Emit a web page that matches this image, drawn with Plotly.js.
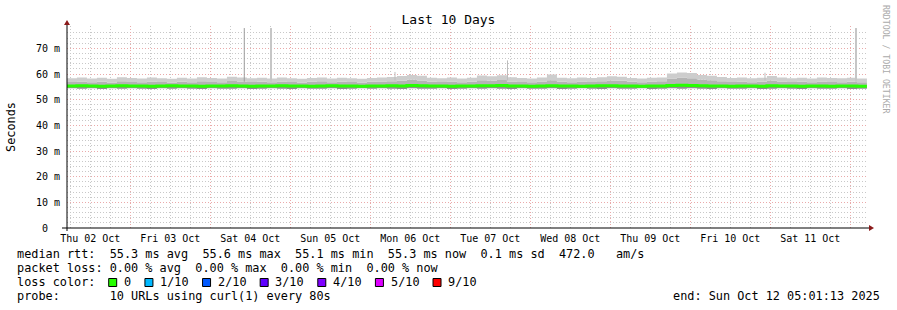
<!DOCTYPE html>
<html>
<head>
<meta charset="utf-8">
<script src="https://cdn.plot.ly/plotly-3.0.1.min.js"></script>
<style>html,body{margin:0;padding:0;background:#fff;}#chart{width:897px;height:310px;}</style>
</head>
<body>
<div id="chart"></div>
<script>
// ---------- DATA ----------
// sample times (3-hour RRD consolidation steps), "MM-DD HH"
const times = [
 '10-02 05','10-02 08','10-02 11','10-02 14','10-02 17','10-02 20','10-02 23',
 '10-03 02','10-03 05','10-03 08','10-03 11','10-03 14','10-03 17','10-03 20','10-03 23',
 '10-04 02','10-04 05','10-04 08','10-04 11','10-04 14','10-04 17','10-04 20','10-04 23',
 '10-05 02','10-05 05','10-05 08','10-05 11','10-05 14','10-05 17','10-05 20','10-05 23',
 '10-06 02','10-06 05','10-06 08','10-06 11','10-06 14','10-06 17','10-06 20','10-06 23',
 '10-07 02','10-07 05','10-07 08','10-07 11','10-07 14','10-07 17','10-07 20','10-07 23',
 '10-08 02','10-08 05','10-08 08','10-08 11','10-08 14','10-08 17','10-08 20','10-08 23',
 '10-09 02','10-09 05','10-09 08','10-09 11','10-09 14','10-09 17','10-09 20','10-09 23',
 '10-10 02','10-10 05','10-10 08','10-10 11','10-10 14','10-10 17','10-10 20','10-10 23',
 '10-11 02','10-11 05','10-11 08','10-11 11','10-11 14','10-11 17','10-11 20','10-11 23',
 '10-12 02','10-12 05'
];
// smoke: lowest ping (ms)
const smokeLo = [
 54.4,54.3,54.4,54.2,54.4,54.3,54.4,54.3,54.2,54.4,
 54.3,54.4,54.3,54.2,54.4,54.3,54.3,54.4,54.2,54.3,
 54.4,54.3,54.2,54.4,54.3,54.3,54.4,54.2,54.3,54.4,
 54.3,54.4,54.3,54.2,54.4,54.3,54.3,54.4,54.2,54.3,
 54.4,54.3,54.4,54.3,54.2,54.4,54.3,54.3,54.4,54.2,
 54.3,54.4,54.3,54.2,54.4,54.3,54.3,54.4,54.2,54.3,
 54.4,54.3,54.4,54.3,54.2,54.4,54.3,54.3,54.4,54.2,
 54.3,54.4,54.3,54.2,54.4,54.3,54.3,54.4,54.2,54.3,54.3
];
// median rtt (ms)
const median = [
 55.3,55.4,55.3,55.2,55.3,55.4,55.3,55.3,55.2,55.3,
 55.4,55.3,55.3,55.2,55.3,55.3,55.4,55.3,55.2,55.3,
 55.3,55.4,55.3,55.3,55.2,55.3,55.4,55.3,55.3,55.2,
 55.3,55.3,55.4,55.3,55.5,55.4,55.3,55.3,55.2,55.3,
 55.3,55.4,55.4,55.5,55.3,55.3,55.2,55.3,55.4,55.3,
 55.3,55.2,55.3,55.4,55.4,55.3,55.3,55.2,55.3,55.3,
 55.5,55.6,55.5,55.4,55.3,55.3,55.2,55.3,55.3,55.2,
 55.4,55.3,55.3,55.2,55.3,55.3,55.2,55.3,55.3,55.2,55.2
];
// smoke: upper inner ping (ms)
const smokeHi = [
 56.9,57.1,56.8,57.0,56.7,57.2,56.9,56.8,57.1,56.9,
 56.7,57.0,56.8,57.2,56.9,56.8,57.3,57.1,56.9,57.0,
 56.8,57.1,56.9,56.7,57.0,57.2,56.8,57.0,56.9,56.7,
 57.0,57.1,57.2,57.4,57.8,57.5,57.0,56.9,57.1,56.8,
 57.0,57.6,57.4,57.7,57.1,56.9,56.8,57.1,57.6,57.0,
 56.8,57.1,56.9,57.2,57.5,57.4,57.0,56.8,57.1,57.2,
 58.2,58.6,58.3,57.8,57.6,57.2,56.9,57.1,56.8,57.0,
 57.5,57.1,56.9,57.0,56.8,57.1,56.9,56.8,57.0,56.8,56.8
];
// smoke: highest ping (ms)
const smokeMax = [
 58.3,58.6,58.2,58.5,58.1,58.7,58.4,58.2,58.6,58.3,
 58.1,58.5,58.2,58.7,58.4,58.2,58.9,58.6,58.3,58.5,
 58.2,58.6,58.3,58.1,58.4,58.6,58.2,58.5,58.3,58.1,
 58.4,58.6,58.8,59.2,59.6,59.3,58.5,58.3,58.6,58.2,
 58.5,59.4,59.1,59.5,58.7,58.4,58.2,58.6,59.8,58.5,
 58.3,58.6,58.4,58.7,59.1,58.9,58.4,58.2,58.5,58.6,
 60.2,60.6,60.4,59.6,59.3,58.8,58.4,58.6,58.3,58.5,
 59.2,58.6,58.3,58.5,58.2,58.6,58.4,58.3,58.5,58.2,58.2
];
// isolated outlier pings
const spikeTimes = ['2025-10-04 10:12','2025-10-04 18:13','2025-10-06 07:25','2025-10-07 17:10','2025-10-10 22:25','2025-10-12 01:43'];
const spikeBase  = [57.0, 57.0, 57.5, 57.5, 57.5, 57.0];
const spikeTops  = [77.9, 77.9, 60.8, 65.3, 60.5, 77.9];

const dayLabels = ['Thu 02 Oct','Fri 03 Oct','Sat 04 Oct','Sun 05 Oct','Mon 06 Oct','Tue 07 Oct','Wed 08 Oct','Thu 09 Oct','Fri 10 Oct','Sat 11 Oct'];
const dayNoons  = ['2025-10-02 12:00','2025-10-03 12:00','2025-10-04 12:00','2025-10-05 12:00','2025-10-06 12:00','2025-10-07 12:00','2025-10-08 12:00','2025-10-09 12:00','2025-10-10 12:00','2025-10-11 12:00'];
const dayStarts = ['2025-10-03','2025-10-04','2025-10-05','2025-10-06','2025-10-07','2025-10-08','2025-10-09','2025-10-10','2025-10-11','2025-10-12'];
const yTickVals = [0,10,20,30,40,50,60,70];
const yTickText = ['0\u00a0\u00a0','10 m','20 m','30 m','40 m','50 m','60 m','70 m'];

const lossLabels = ['0','1/10','2/10','3/10','4/10','5/10','9/10'];
const lossColors = ['#26ff00','#00b8ff','#0059ff','#5e00ff','#7e00ff','#dd00ff','#ff0000'];

const legendLines = [
 'median rtt:  55.3 ms avg  55.6 ms max  55.1 ms min  55.3 ms now  0.1 ms sd  472.0   am/s',
 'packet loss: 0.00 % avg  0.00 % max  0.00 % min  0.00 % now',
 'loss color:',
 'probe:       10 URLs using curl(1) every 80s'
];
const endText = 'end: Sun Oct 12 05:01:13 2025';
const titleText = 'Last 10 Days';
const xStart = '2025-10-02 05:01:13', xEnd = '2025-10-12 05:01:13';

// ---------- DRAWING ----------
const X = times.map(s => '2025-' + s + ':00');
const MONO = 'DejaVu Sans Mono';
const W = 897, H = 310, ML = 67, MR = 30, MT = 26, MB = 82;
const PW = W - ML - MR, PH = H - MT - MB;
const px = p => (p - ML) / PW;
const py = p => (H - MB - p) / PH;
const nb = s => s.replace(/ /g, '\u00a0');

const traces = [
 {x: X, y: smokeLo, mode: 'lines', line: {width: 0, shape: 'hv'}, hoverinfo: 'skip'},
 {x: X, y: median, mode: 'lines', line: {width: 0, shape: 'hv'}, fill: 'tonexty', fillcolor: '#8e8e8e', hoverinfo: 'skip'},
 {x: X, y: smokeHi, mode: 'lines', line: {width: 0, shape: 'hv'}, fill: 'tonexty', fillcolor: '#b4b4b4', hoverinfo: 'skip'},
 {x: X, y: smokeMax, mode: 'lines', line: {width: 0, shape: 'hv'}, fill: 'tonexty', fillcolor: '#cdcdcd', hoverinfo: 'skip'}
];
// spikes
const spikeStyle = [
 {w: 1, c: '#9a9a9a'}, {w: 2, c: '#c6c6c6'}, {w: 1, c: '#bdbdbd'},
 {w: 1, c: '#bdbdbd'}, {w: 1, c: '#bdbdbd'}, {w: 2, c: '#c6c6c6'}
];
spikeTimes.forEach((t, i) => {
 traces.push({x: [t, t], y: [spikeBase[i], spikeTops[i]], mode: 'lines',
   line: {width: spikeStyle[i].w, color: spikeStyle[i].c}, hoverinfo: 'skip'});
});
traces.push({x: X, y: median, mode: 'lines', line: {width: 3, color: lossColors[0], shape: 'hv'}, hoverinfo: 'skip'});
// carrier for the label axis
traces.push({x: [xStart], y: [0], xaxis: 'x2', mode: 'markers', marker: {opacity: 0}, hoverinfo: 'skip'});

const yMinor = [];
for (let v = 2; v < 78; v += 2) if (v % 10) yMinor.push(v);

const majorGrid = '#eaaaaa', minorGrid = '#c8c8c8', dash = '1px,2px';

const annotations = [];
const shapes = [];
const lineY = [254, 268, 282, 296];
legendLines.forEach((s, i) => {
 annotations.push({text: nb(s), x: px(16), y: py(lineY[i]), xref: 'paper', yref: 'paper',
   xanchor: 'left', yanchor: 'middle', showarrow: false, borderpad: 0,
   font: {family: MONO, size: 11.85, color: '#000'}});
});
annotations.push({text: nb(endText), x: px(881), y: py(296), xref: 'paper', yref: 'paper',
  xanchor: 'right', yanchor: 'middle', showarrow: false, borderpad: 0,
  font: {family: MONO, size: 11.85, color: '#000'}});
// loss colour legend
let cx = 108.7;
lossLabels.forEach((lab, i) => {
 shapes.push({type: 'rect', xref: 'paper', yref: 'paper', x0: px(cx), x1: px(cx + 8), y0: py(286.5), y1: py(278.5),
   fillcolor: lossColors[i], line: {color: '#000', width: 1}});
 annotations.push({text: nb(lab), x: px(cx + 14.3), y: py(282), xref: 'paper', yref: 'paper',
   xanchor: 'left', yanchor: 'middle', showarrow: false, borderpad: 0,
   font: {family: MONO, size: 11.85, color: '#000'}});
 cx = cx + 14.3 + lab.length * 7.13 + 14.8;
});
annotations.push({text: 'Seconds', x: px(11), y: py(127), xref: 'paper', yref: 'paper', textangle: -90,
  xanchor: 'center', yanchor: 'middle', showarrow: false, font: {family: MONO, size: 11.85, color: '#000'}});
annotations.push({text: nb('RRDTOOL / TOBI OETIKER'), x: px(886), y: py(59), xref: 'paper', yref: 'paper', textangle: 90,
  xanchor: 'center', yanchor: 'middle', showarrow: false, font: {family: MONO, size: 8.2, color: '#aaaaaa'}});

// axis lines and arrows
shapes.push({type: 'line', xref: 'paper', yref: 'paper', x0: px(62), x1: px(869), y0: 0, y1: 0, line: {color: '#000', width: 1}});
shapes.push({type: 'line', xref: 'paper', yref: 'paper', x0: 0, x1: 0, y0: py(231), y1: py(24), line: {color: '#000', width: 1}});
const arrowC = '#8b1a1a';
shapes.push({type: 'path', xref: 'paper', yref: 'paper',
  path: `M${px(869)},${py(225)} L${px(874)},${py(228)} L${px(869)},${py(231)} Z`, fillcolor: arrowC, line: {color: arrowC, width: 0}});
shapes.push({type: 'path', xref: 'paper', yref: 'paper',
  path: `M${px(64)},${py(25)} L${px(67)},${py(20)} L${px(70)},${py(25)} Z`, fillcolor: arrowC, line: {color: arrowC, width: 0}});

const layout = {
 width: W, height: H, margin: {l: ML, r: MR, t: MT, b: MB, pad: 0},
 paper_bgcolor: '#ffffff', plot_bgcolor: '#ffffff', showlegend: false,
 title: {text: titleText, font: {family: MONO, size: 13, color: '#000'}, x: 0.5, xref: 'container', xanchor: 'center',
   y: 1 - 19 / H, yref: 'container', yanchor: 'middle'},
 xaxis: {type: 'date', range: [xStart, xEnd], tickmode: 'array', tickvals: dayStarts, showticklabels: false,
   showgrid: true, gridcolor: majorGrid, griddash: dash, gridwidth: 1, ticks: '', showline: false, zeroline: false,
   minor: {dtick: 6 * 3600 * 1000, tick0: '2025-10-02 00:00', showgrid: true, gridcolor: minorGrid, griddash: dash, gridwidth: 1, ticks: ''}},
 xaxis2: {type: 'date', overlaying: 'x', anchor: 'y', side: 'bottom', range: [xStart, xEnd], tickmode: 'array',
   tickvals: dayNoons, ticktext: dayLabels, showgrid: false, ticks: '', showline: false, zeroline: false,
   ticklabelstandoff: 3, tickfont: {family: MONO, size: 10, color: '#000'}},
 yaxis: {range: [0, 78.7], tickmode: 'array', tickvals: yTickVals, ticktext: yTickText, showgrid: true,
   gridcolor: majorGrid, griddash: dash, gridwidth: 1, ticks: '', showline: false, zeroline: false,
   ticklabelstandoff: 6, tickfont: {family: MONO, size: 10, color: '#000'},
   minor: {tickmode: 'array', tickvals: yMinor, showgrid: true, gridcolor: minorGrid, griddash: dash, gridwidth: 1, ticks: ''}},
 annotations: annotations, shapes: shapes
};

Plotly.newPlot('chart', traces, layout, {staticPlot: true, displayModeBar: false});
</script>
</body>
</html>
